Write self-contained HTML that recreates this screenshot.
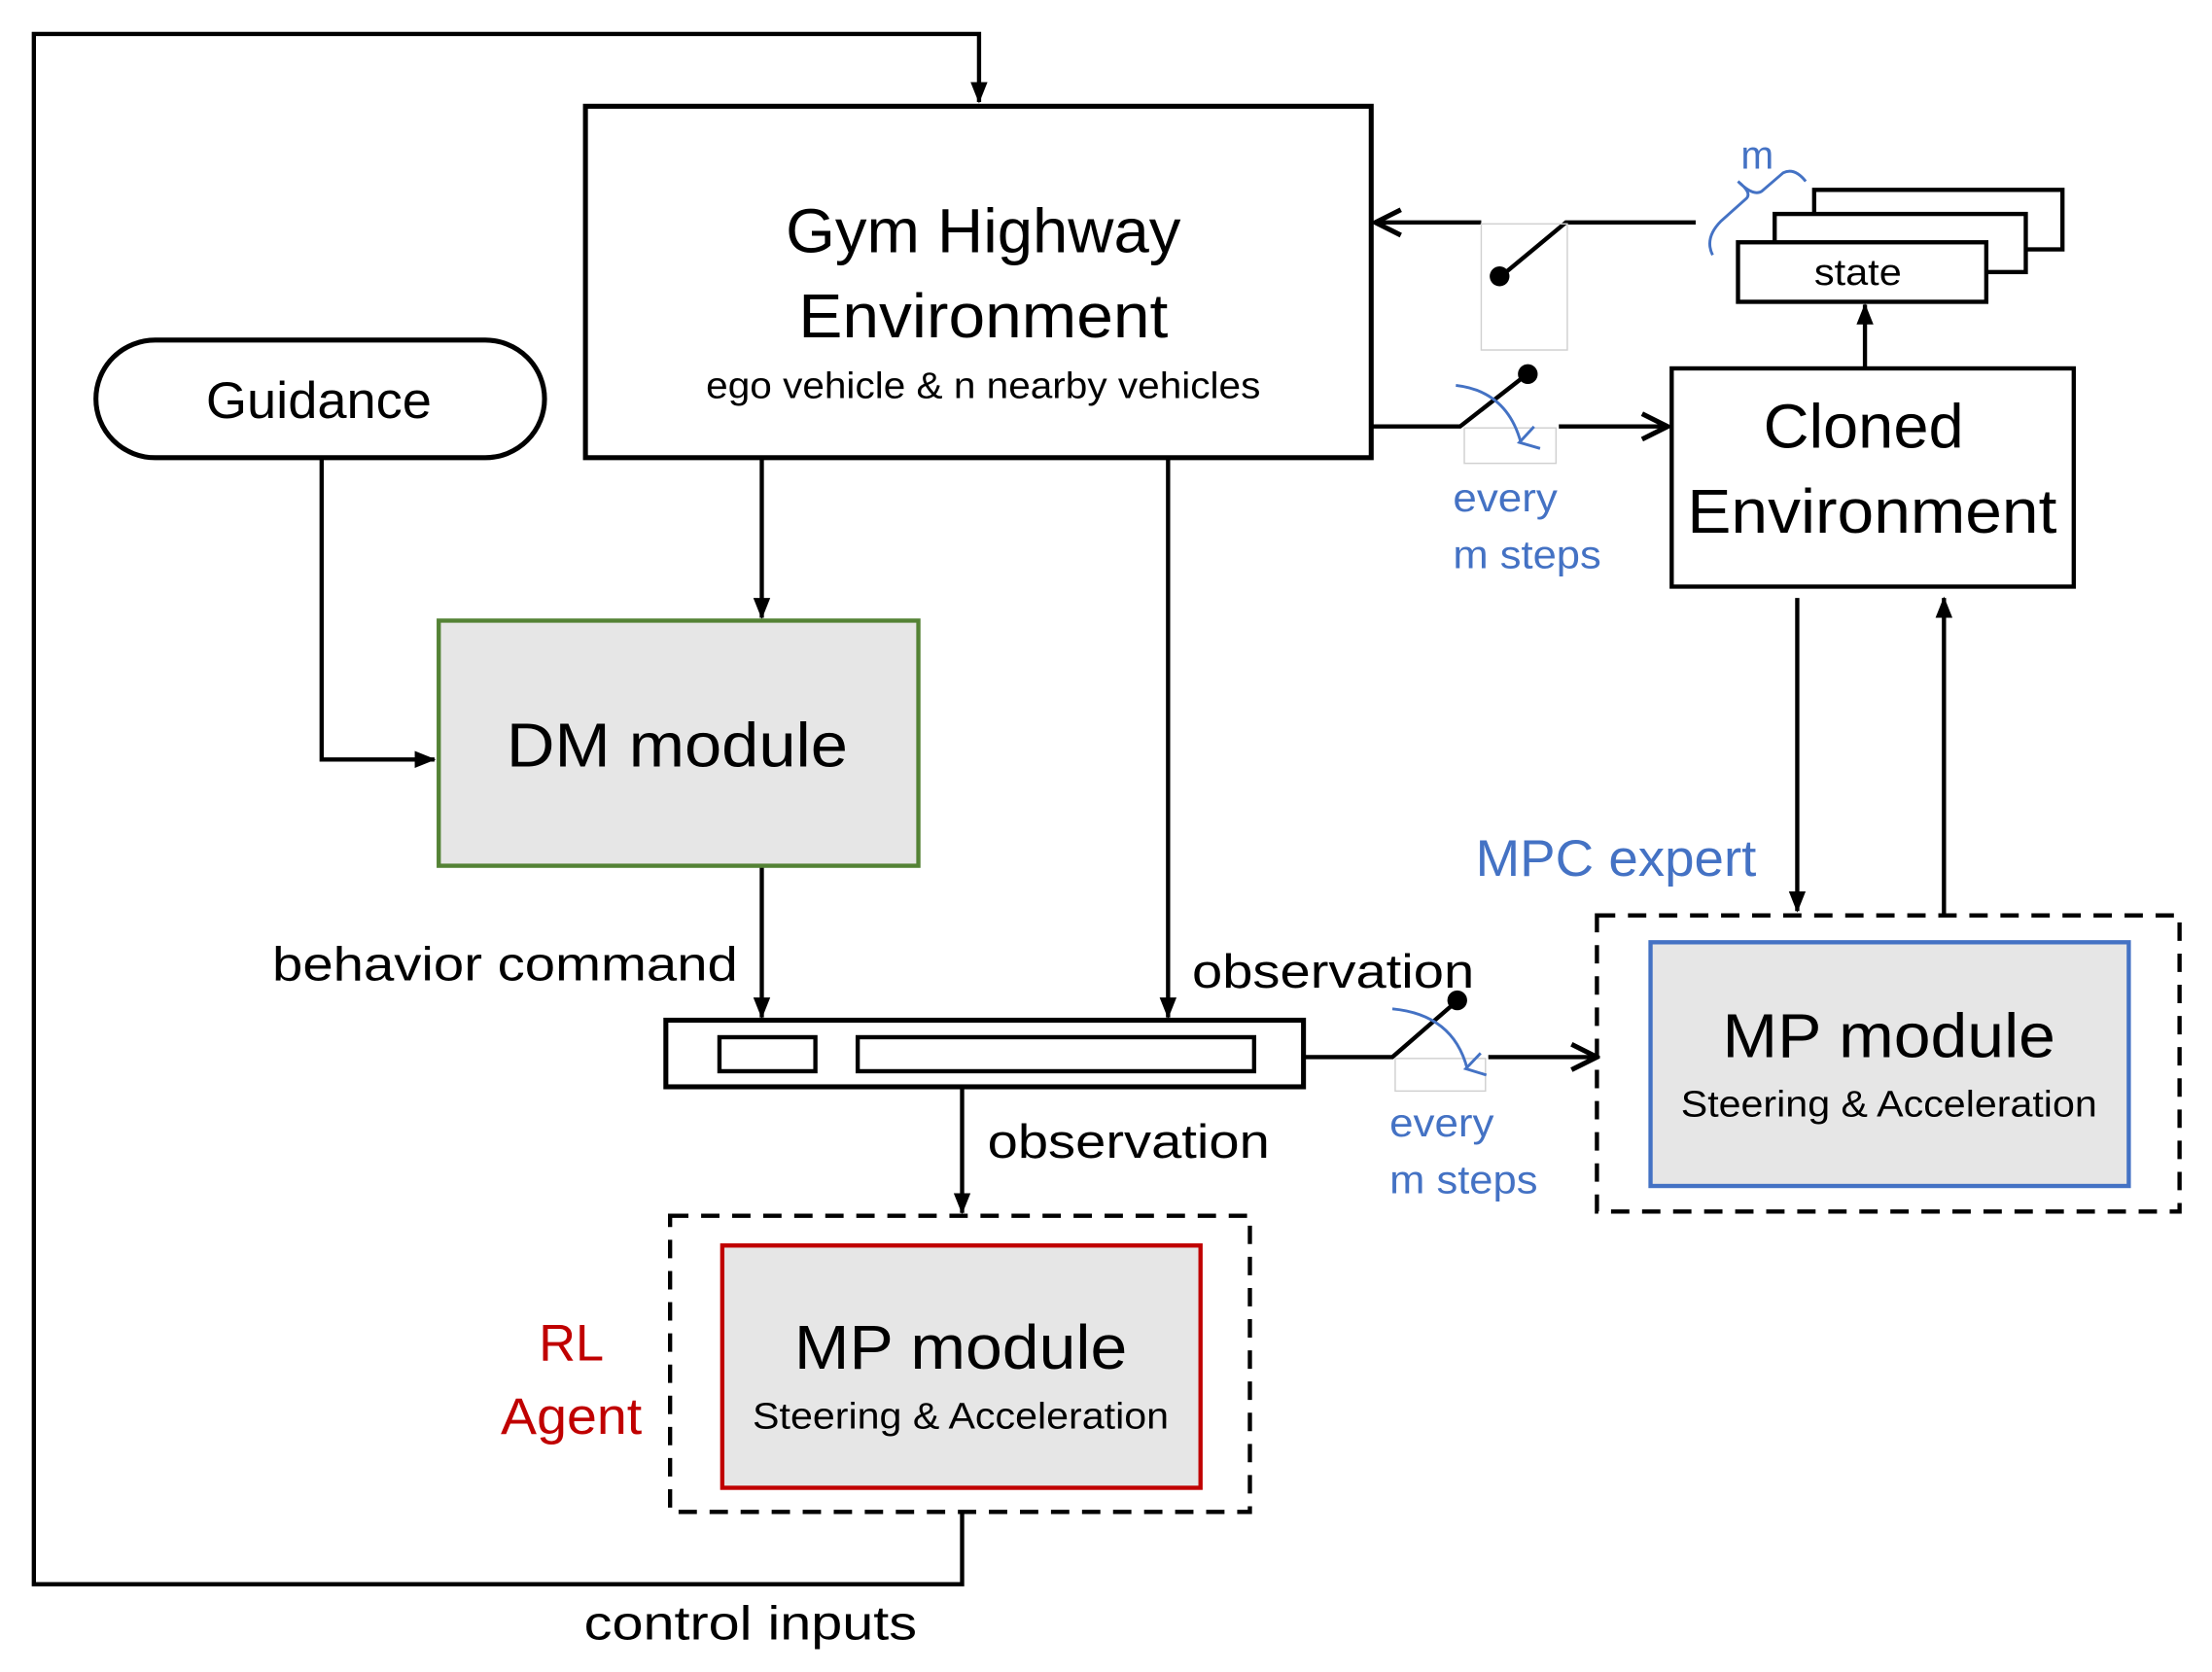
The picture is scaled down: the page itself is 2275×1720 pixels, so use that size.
<!DOCTYPE html>
<html><head><meta charset="utf-8"><style>
html,body{margin:0;padding:0;background:#fff;}
svg{display:block;}
text{font-family:"Liberation Sans",sans-serif;}
</style></head><body>
<svg width="2275" height="1720" viewBox="0 0 1568 1180" preserveAspectRatio="none" xmlns="http://www.w3.org/2000/svg">
<defs>
<marker id="a" markerWidth="10" markerHeight="10" refX="9" refY="5" orient="auto" markerUnits="userSpaceOnUse" viewBox="0 0 10 10"><path d="M0,0 L10,5 L0,10 z" fill="#000"/></marker>
<marker id="af" markerWidth="16" markerHeight="16" refX="14" refY="8" orient="auto" markerUnits="userSpaceOnUse" viewBox="0 0 16 16"><path d="M0,2 L15,8 L0,14 z" fill="#000"/></marker>
<marker id="o" markerWidth="24" markerHeight="24" refX="22" refY="12" orient="auto" markerUnits="userSpaceOnUse" viewBox="0 0 24 24"><path d="M4,3 L22,12 L4,21" fill="none" stroke="#000" stroke-width="3.5"/></marker>
<marker id="b" markerWidth="20" markerHeight="20" refX="10" refY="16" orient="auto" markerUnits="userSpaceOnUse" viewBox="0 0 20 20"><path d="M2,4 L10,17 L18,4" fill="none" stroke="#4472c4" stroke-width="2"/></marker>
</defs>
<g fill="none" stroke="#000" stroke-width="3">
<!-- outer loop -->
<path d="M682,1068 V1118 H24 V24 H694 V72" marker-end="url(#af)"/>
<!-- Gym box -->
<rect x="415" y="75" width="557" height="248" stroke-width="3.5"/>
<!-- Guidance -->
<rect x="68" y="240" width="318" height="83" rx="42" stroke-width="3.5"/>
<path d="M228,323 V536 H308" marker-end="url(#af)"/>
<!-- gym -> DM -->
<path d="M540,323 V436" marker-end="url(#af)"/>
<path d="M540,611 V718" marker-end="url(#af)"/>
<path d="M828,323 V718" marker-end="url(#af)"/>
<!-- bar -->
<rect x="472" y="720" width="452" height="47" stroke-width="3.5"/>
<rect x="510" y="732" width="68" height="24"/>
<rect x="608" y="732" width="281" height="24"/>
<path d="M682,767 V856" marker-end="url(#af)"/>
<!-- switch bar->MPC -->
<path d="M924,746 H987 L1031,708"/>
<path d="M1055,746 H1132" marker-end="url(#o)"/>
<!-- switch gym->cloned -->
<path d="M972,301 H1035 L1080,266"/>
<path d="M1105,301 H1182" marker-end="url(#o)"/>
<!-- top switch -->
<path d="M1202,157 H1110 L1064,195"/>
<path d="M1050,157 H975" marker-end="url(#o)"/>
<!-- state stack -->
<rect x="1286" y="134" width="176" height="42" fill="#fff"/>
<rect x="1258" y="151" width="178" height="41" fill="#fff"/>
<rect x="1232" y="171" width="176" height="42" fill="#fff"/>
<path d="M1322,260 V215" marker-end="url(#af)"/>
<!-- cloned -->
<rect x="1185" y="260" width="285" height="154"/>
<path d="M1274,422 V643" marker-end="url(#af)"/>
<path d="M1378,645 V422" marker-end="url(#af)"/>
<!-- dashed boxes -->
<rect x="475" y="858" width="411" height="209" stroke-dasharray="13,9"/>
<rect x="1132" y="646" width="413" height="209" stroke-dasharray="13,9"/>
</g>
<g fill="#000"><circle cx="1033" cy="706" r="7"/><circle cx="1083" cy="264" r="7"/><circle cx="1063" cy="195" r="7"/></g>
<g fill="none" stroke="#d0d0d0" stroke-width="1">
<rect x="1050" y="158" width="61" height="89"/>
<rect x="1038" y="302" width="65" height="25"/>
<rect x="989" y="747" width="64" height="23"/>
</g>
<!-- boxes -->
<rect x="311" y="438" width="340" height="173" fill="#e6e6e6" stroke="#548235" stroke-width="3"/>
<rect x="512" y="879" width="339" height="171" fill="#e6e6e6" stroke="#c00000" stroke-width="3"/>
<rect x="1170" y="665" width="339" height="172" fill="#e6e6e6" stroke="#4472c4" stroke-width="3"/>
<!-- blue curves -->
<g fill="none" stroke="#4472c4" stroke-width="2">
<path d="M1032,272 Q1068,276 1078,312" marker-end="url(#b)"/>
<path d="M987,712 Q1030,716 1040,754" marker-end="url(#b)"/>
<path d="M1214,180 Q1208,168 1220,156 L1238,140 Q1242,136 1232,128 Q1244,140 1250,134 L1264,122 Q1272,118 1280,128"/>
</g>
<!-- text -->
<g text-anchor="middle" fill="#000">
<text x="697" y="178" font-size="44" textLength="280" lengthAdjust="spacingAndGlyphs">Gym Highway</text>
<text x="697" y="238" font-size="44" textLength="262" lengthAdjust="spacingAndGlyphs">Environment</text>
<text x="697" y="281" font-size="26" textLength="393" lengthAdjust="spacingAndGlyphs">ego vehicle &amp; n nearby vehicles</text>
<text x="226" y="295" font-size="36" textLength="160" lengthAdjust="spacingAndGlyphs">Guidance</text>
<text x="480" y="541" font-size="44" textLength="242" lengthAdjust="spacingAndGlyphs">DM module</text>
<text x="358" y="692" font-size="34" textLength="330" lengthAdjust="spacingAndGlyphs">behavior command</text>
<text x="945" y="697" font-size="34" textLength="200" lengthAdjust="spacingAndGlyphs">observation</text>
<text x="800" y="817" font-size="34" textLength="200" lengthAdjust="spacingAndGlyphs">observation</text>
<text x="681" y="966" font-size="44" textLength="236" lengthAdjust="spacingAndGlyphs">MP module</text>
<text x="681" y="1008" font-size="26" textLength="295" lengthAdjust="spacingAndGlyphs">Steering &amp; Acceleration</text>
<text x="1339" y="746" font-size="44" textLength="236" lengthAdjust="spacingAndGlyphs">MP module</text>
<text x="1339" y="788" font-size="26" textLength="295" lengthAdjust="spacingAndGlyphs">Steering &amp; Acceleration</text>
<text x="1321" y="316" font-size="44" textLength="142" lengthAdjust="spacingAndGlyphs">Cloned</text>
<text x="1327" y="376" font-size="44" textLength="262" lengthAdjust="spacingAndGlyphs">Environment</text>
<text x="1317" y="201" font-size="26" textLength="62" lengthAdjust="spacingAndGlyphs">state</text>
<text x="532" y="1157" font-size="34" textLength="236" lengthAdjust="spacingAndGlyphs">control inputs</text>
</g>
<g fill="#c00000" text-anchor="middle">
<text x="405" y="960" font-size="36">RL</text>
<text x="405" y="1012" font-size="36" textLength="100" lengthAdjust="spacingAndGlyphs">Agent</text>
</g>
<g fill="#4472c4">
<text x="1046" y="618" font-size="36" textLength="199" lengthAdjust="spacingAndGlyphs">MPC expert</text>
<text x="1030" y="361" font-size="28" textLength="74" lengthAdjust="spacingAndGlyphs">every</text>
<text x="1030" y="401" font-size="28" textLength="105" lengthAdjust="spacingAndGlyphs">m steps</text>
<text x="985" y="802" font-size="28" textLength="74" lengthAdjust="spacingAndGlyphs">every</text>
<text x="985" y="842" font-size="28" textLength="105" lengthAdjust="spacingAndGlyphs">m steps</text>
<text x="1234" y="119" font-size="28">m</text>
</g>
</svg>
</body></html>
